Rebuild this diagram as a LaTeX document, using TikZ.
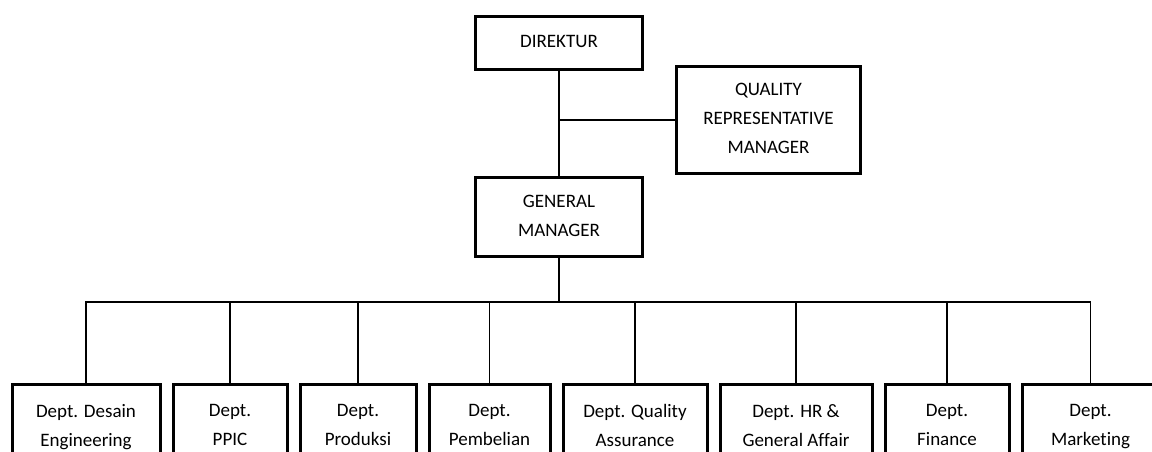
\documentclass[tikz,border=0pt]{standalone}
\usepackage{fontspec}
\setmainfont{Carlito}[Ligatures=NoCommon]
\usetikzlibrary{positioning}

\begin{document}
\begin{tikzpicture}[x=1pt,y=-1pt,node distance=10pt,
  unit/.style={draw,line width=3pt,align=center,inner sep=0pt,font=\fontsize{19}{29}\selectfont,
    execute at begin node=\vphantom{Dl},execute at end node=\vphantom{g}},
  dept/.style={unit,minimum height=86pt},
  link/.style={line width=1.3pt}]
\useasboundingbox (0,0) rectangle (1152,452);
\clip (0,0) rectangle (1152,452);
\node[unit,minimum width=167pt,minimum height=53pt] (dir) at (559,43) {DIREKTUR};
\node[unit,minimum width=184pt,minimum height=107pt] (qrm) at (768.5,120) {QUALITY\\REPRESENTATIVE\\MANAGER};
\node[unit,minimum width=167pt,minimum height=79pt] (gm) at (559,217) {GENERAL\\MANAGER};
\node[dept,minimum width=148pt,anchor=north west] (d1) at (10.5,382.5) {Dept. Desain\\Engineering};
\node[dept,minimum width=114pt] (d2) [right=of d1] {Dept.\\PPIC};
\node[dept,minimum width=116pt] (d3) [right=of d2] {Dept.\\Produksi};
\node[dept,minimum width=121pt] (d4) [right=of d3] {Dept.\\Pembelian};
\node[dept,minimum width=144pt] (d5) [right=of d4] {Dept. Quality\\Assurance};
\node[dept,minimum width=152pt] (d6) [right=of d5] {Dept. HR \&\\General Affair};
\node[dept,minimum width=124pt] (d7) [right=of d6] {Dept.\\Finance};
\node[dept,minimum width=137pt] (d8) [right=of d7] {Dept.\\Marketing};
\coordinate (bus) at (559,302);
\draw[link] (dir) -- (gm);
\draw[link] (qrm.west) -- (qrm.west -| dir.south);
\draw[link] (gm.south) -- (bus);
\foreach \i in {1,...,8}
  \draw[link] (bus) -| (d\i.north);
\end{tikzpicture}
\end{document}
